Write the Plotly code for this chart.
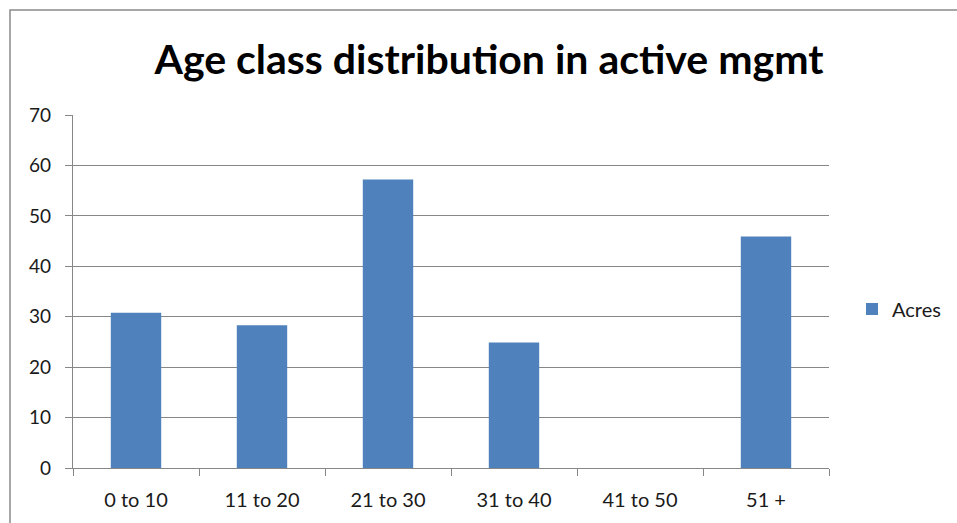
import plotly.graph_objects as go

categories = ["0 to 10", "11 to 20", "21 to 30", "31 to 40", "41 to 50", "51 +"]
acres = [30.8, 28.3, 57.2, 24.9, 0, 45.9]
series_name = "Acres"
title_text = "Age class distribution in active mgmt"

W, H = 957, 523
ml, mr, mt, mb = 73, 128, 115, 55
pw, ph = W - ml - mr, H - mt - mb

fig = go.Figure()
fig.add_trace(go.Bar(
    x=categories, y=acres, name=series_name,
    marker=dict(color="#4F81BD", line=dict(width=0)),
    showlegend=True,
))

grid = "#878787"
fig.update_layout(
    width=W, height=H,
    margin=dict(l=ml, r=mr, t=mt, b=mb, autoexpand=False),
    paper_bgcolor="white", plot_bgcolor="white",
    bargap=0.6,
    font=dict(family="Lato, Carlito, sans-serif", size=19, color="#1a1a1a"),
    title=dict(text="<b>" + title_text + "</b>", x=489 / W, xanchor="center",
               y=1 - 60 / H, yanchor="middle",
               font=dict(family="Lato, sans-serif", size=41, color="black")),
    xaxis=dict(showline=True, linecolor=grid, linewidth=1.3, ticks="outside",
               tickson="boundaries", ticklen=7, tickcolor=grid, tickwidth=1.3,
               showgrid=False, tickfont=dict(size=20), ticklabelstandoff=14),
    yaxis=dict(range=[0, 70], dtick=10, showline=True, linecolor=grid, linewidth=1.3,
               ticks="outside", ticklen=7, tickcolor=grid, tickwidth=1.3, showgrid=True,
               gridcolor=grid, gridwidth=1.3, zeroline=False, tickfont=dict(size=19),
               ticklabelstandoff=10),
    legend=dict(x=(852 - ml) / pw, xanchor="left", y=(H - mb - 309) / ph, yanchor="middle",
                font=dict(size=20), itemwidth=30, bgcolor="rgba(0,0,0,0)"),
)

# outer chart border
fig.add_shape(type="rect", xref="paper", yref="paper",
              x0=(10 - ml) / pw, x1=(W + 5 - ml) / pw,
              y0=-(mb + 5) / ph, y1=(H - mb - 10) / ph,
              line=dict(color="#8a8a8a", width=1.5), fillcolor="rgba(0,0,0,0)", layer="below")

fig.write_html("out.html")
